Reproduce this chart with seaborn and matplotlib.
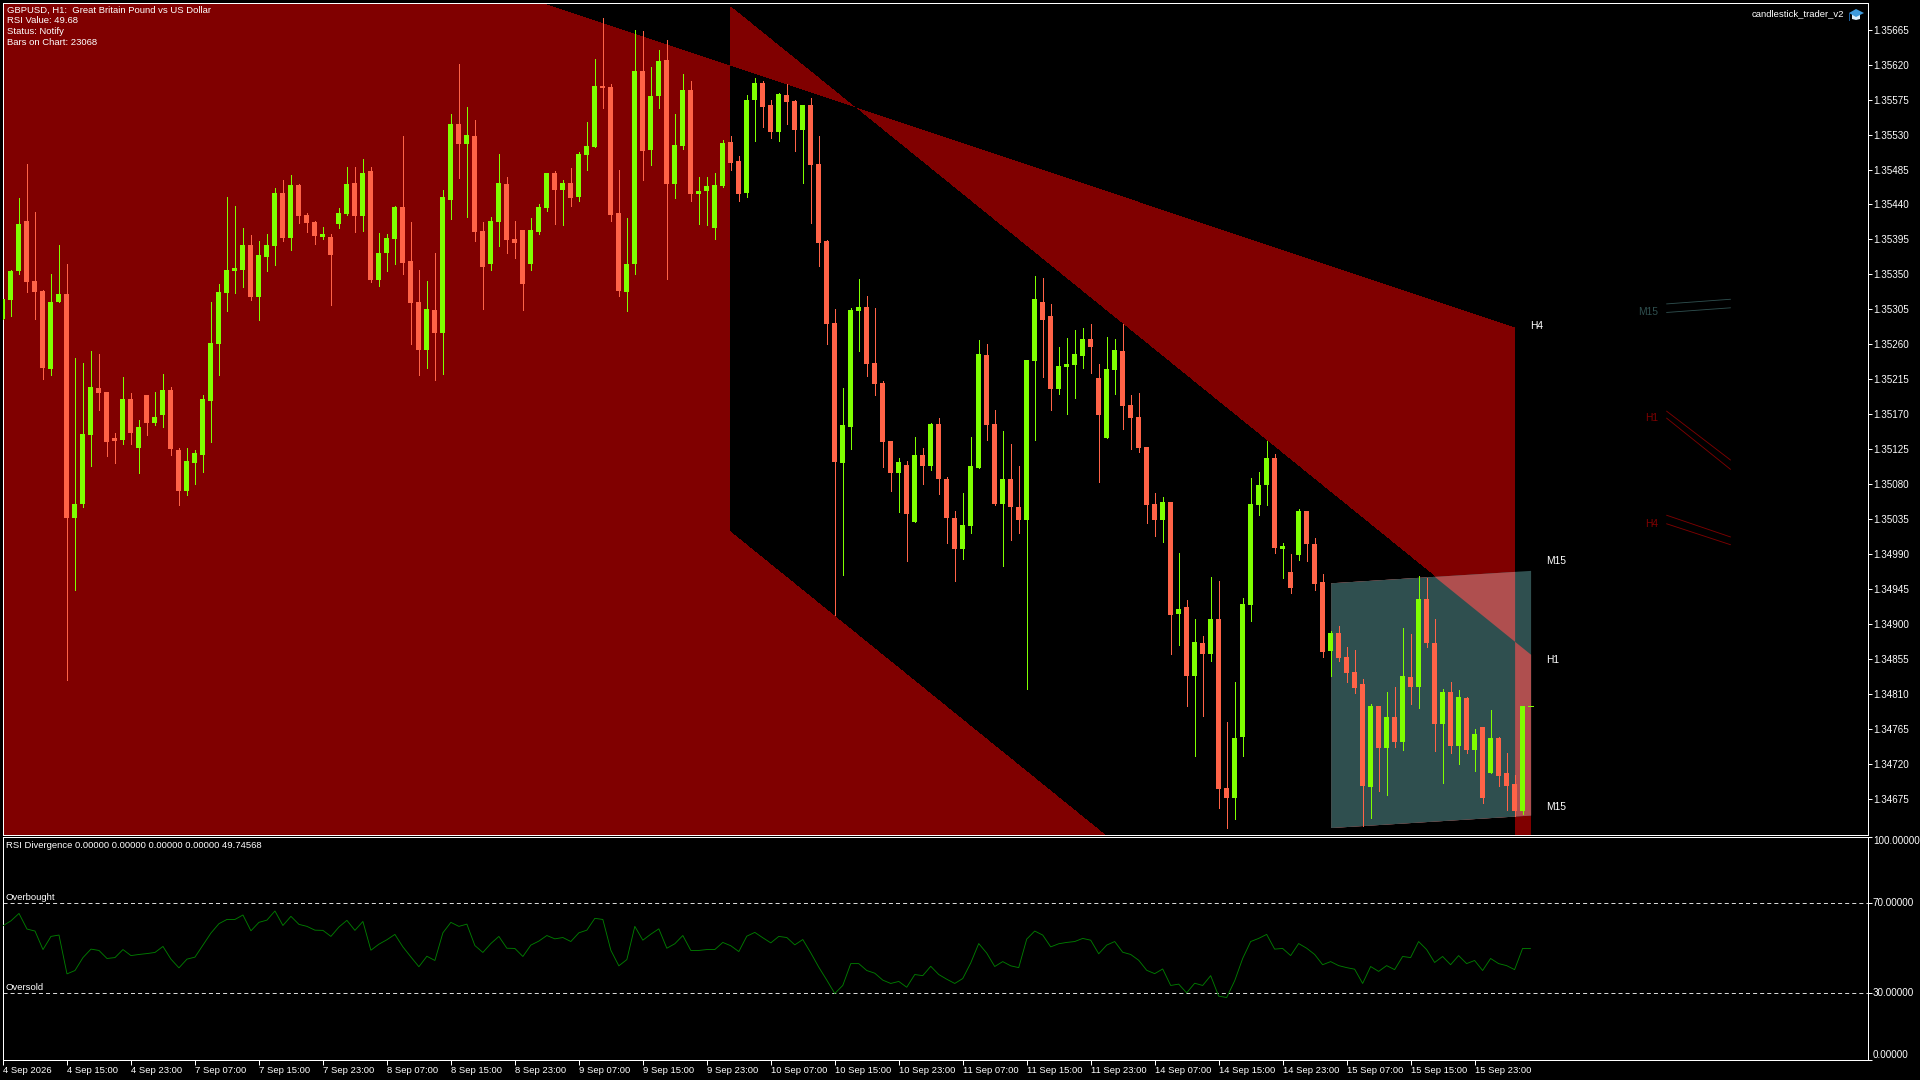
"""
GBPUSD H1 terminal screenshot: candles, XOR-filled channels and RSI subwindow.
"""

import matplotlib.pyplot as plt
import numpy as np
import seaborn as sns
from matplotlib.patches import Polygon

# Quotes are kept in points above 1.30000 (5318 -> 1.35318)
open_pts = [
    5292, 5317, 5354, 5419, 5342, 5329, 5228, 5314, 5325, 5037,
    5054, 5143, 5204, 5198, 5139, 5137, 5189, 5127, 5195, 5159,
    5169, 5201, 5124, 5071, 5107, 5118, 5187, 5261, 5326, 5355,
    5356, 5388, 5321, 5373, 5386, 5455, 5397, 5465, 5427, 5417,
    5398, 5398, 5415, 5428, 5468, 5425, 5483, 5343, 5377, 5395,
    5437, 5367, 5314, 5253, 5304, 5275, 5446, 5544, 5518, 5528,
    5406, 5364, 5417, 5467, 5395, 5407, 5364, 5404, 5436, 5480,
    5459, 5468, 5449, 5504, 5514, 5592, 5591, 5429, 5327, 5363,
    5612, 5510, 5579, 5626, 5467, 5515, 5587, 5454, 5457, 5410,
    5464, 5520, 5496, 5455, 5574, 5597, 5568, 5533, 5581, 5573,
    5536, 5568, 5492, 5393, 5287, 5107, 5154, 5303, 5308, 5236,
    5210, 5136, 5094, 5105, 5031, 5118, 5103, 5158, 5086, 5037,
    4996, 5026, 5101, 5246, 5158, 5055, 5086, 5050, 5034, 5239,
    5314, 5296, 5202, 5231, 5233, 5245, 5267, 5216, 5139, 5227,
    5252, 5182, 5166, 5128, 5054, 5034, 5057, 4913, 4922, 4833,
    4876, 4861, 4907, 4689, 4676, 4754, 4925, 5053, 5079, 5114,
    4996, 4967, 4989, 5045, 5003, 4954, 4865, 4888, 4857, 4838,
    4823, 4690, 4794, 4740, 4780, 4748, 4832, 4819, 4932, 4876,
    4771, 4812, 4743, 4805, 4738, 4767, 4708, 4753, 4708, 4694,
    4659, 4794,
]
high_pts = [
    5318, 5356, 5448, 5492, 5430, 5330, 5351, 5388, 5364, 5243,
    5236, 5251, 5248, 5198, 5146, 5218, 5197, 5162, 5195, 5198,
    5222, 5205, 5127, 5127, 5124, 5195, 5314, 5337, 5450, 5438,
    5410, 5401, 5393, 5402, 5461, 5472, 5478, 5467, 5429, 5419,
    5411, 5402, 5436, 5488, 5488, 5498, 5488, 5403, 5402, 5438,
    5528, 5417, 5356, 5342, 5378, 5458, 5557, 5621, 5566, 5549,
    5417, 5424, 5505, 5476, 5419, 5407, 5423, 5441, 5481, 5483,
    5472, 5487, 5507, 5546, 5627, 5680, 5595, 5485, 5423, 5664,
    5663, 5617, 5639, 5652, 5557, 5608, 5599, 5476, 5475, 5481,
    5523, 5528, 5502, 5581, 5603, 5599, 5574, 5583, 5595, 5574,
    5568, 5577, 5528, 5394, 5305, 5204, 5307, 5344, 5322, 5307,
    5213, 5136, 5114, 5110, 5141, 5127, 5159, 5165, 5089, 5045,
    5069, 5141, 5265, 5261, 5175, 5149, 5132, 5103, 5240, 5348,
    5345, 5312, 5257, 5268, 5278, 5281, 5286, 5235, 5269, 5267,
    5286, 5195, 5197, 5128, 5068, 5063, 5057, 4991, 4931, 4907,
    4884, 4960, 4955, 4774, 4825, 4934, 5088, 5095, 5136, 5119,
    5004, 4990, 5048, 5046, 5011, 4964, 4891, 4897, 4870, 4866,
    4829, 4797, 4794, 4812, 4819, 4895, 4887, 4962, 4959, 4906,
    4816, 4825, 4815, 4806, 4765, 4767, 4789, 4755, 4734, 4705,
    4795, 4794,
]
low_pts = [
    5292, 5296, 5351, 5327, 5292, 5215, 5221, 5314, 4828, 4944,
    5051, 5103, 5176, 5116, 5107, 5132, 5132, 5094, 5143, 5156,
    5153, 5118, 5053, 5066, 5080, 5095, 5134, 5221, 5303, 5326,
    5334, 5317, 5291, 5354, 5362, 5393, 5382, 5416, 5404, 5389,
    5395, 5311, 5410, 5427, 5404, 5406, 5340, 5335, 5355, 5364,
    5350, 5261, 5221, 5230, 5214, 5222, 5421, 5474, 5424, 5393,
    5305, 5356, 5386, 5377, 5371, 5304, 5356, 5402, 5432, 5415,
    5414, 5438, 5444, 5484, 5514, 5564, 5419, 5322, 5303, 5350,
    5472, 5491, 5564, 5344, 5448, 5511, 5444, 5415, 5414, 5395,
    5462, 5484, 5444, 5450, 5522, 5540, 5525, 5522, 5543, 5509,
    5468, 5416, 5361, 5260, 4912, 4963, 5125, 5251, 5219, 5195,
    5102, 5071, 5044, 4981, 5031, 5080, 5098, 5067, 5004, 4955,
    4983, 5017, 5101, 5137, 5053, 4974, 5008, 5017, 4816, 5137,
    5218, 5176, 5196, 5170, 5191, 5230, 5223, 5083, 5139, 5196,
    5151, 5125, 5121, 5030, 5013, 5005, 4861, 4873, 4794, 4730,
    4781, 4852, 4663, 4638, 4649, 4730, 4904, 5040, 5053, 4992,
    4959, 4940, 4982, 4981, 4944, 4857, 4833, 4852, 4825, 4811,
    4640, 4650, 4685, 4680, 4741, 4738, 4797, 4792, 4871, 4737,
    4695, 4734, 4720, 4734, 4711, 4669, 4708, 4692, 4661, 4653,
    4656, 4794,
]
close_pts = [
    5318, 5355, 5415, 5340, 5327, 5230, 5314, 5325, 5036, 5054,
    5144, 5205, 5197, 5134, 5136, 5189, 5146, 5154, 5159, 5167,
    5201, 5125, 5071, 5110, 5120, 5189, 5262, 5327, 5356, 5358,
    5388, 5321, 5375, 5388, 5455, 5397, 5465, 5425, 5416, 5399,
    5402, 5375, 5429, 5467, 5425, 5481, 5343, 5378, 5397, 5437,
    5365, 5313, 5253, 5305, 5275, 5449, 5543, 5518, 5530, 5404,
    5359, 5419, 5468, 5394, 5391, 5337, 5407, 5437, 5480, 5459,
    5468, 5448, 5505, 5515, 5592, 5590, 5427, 5329, 5364, 5612,
    5509, 5579, 5625, 5467, 5517, 5587, 5453, 5457, 5464, 5465,
    5519, 5494, 5454, 5575, 5597, 5566, 5533, 5582, 5572, 5536,
    5568, 5491, 5391, 5286, 5108, 5156, 5304, 5308, 5235, 5209,
    5134, 5094, 5108, 5041, 5118, 5103, 5157, 5086, 5036, 4996,
    5027, 5103, 5247, 5156, 5055, 5086, 5050, 5034, 5240, 5318,
    5291, 5202, 5232, 5235, 5247, 5267, 5256, 5169, 5228, 5253,
    5180, 5165, 5127, 5053, 5034, 5057, 4912, 4919, 4833, 4877,
    4861, 4907, 4687, 4676, 4753, 4926, 5054, 5079, 5114, 4998,
    5000, 4946, 5045, 5003, 4952, 4864, 4888, 4856, 4837, 4817,
    4691, 4794, 4740, 4780, 4748, 4833, 4819, 4932, 4876, 4771,
    4812, 4743, 4806, 4738, 4759, 4676, 4753, 4704, 4692, 4659,
    4794, 4794,
]

rsi_values = [
    60.0, 62.2, 65.5, 58.5, 57.6, 49.3, 55.2, 55.8, 38.4, 39.9,
    45.7, 49.5, 48.9, 45.3, 45.7, 49.3, 46.6, 47.1, 47.5, 48.0,
    50.7, 45.0, 41.1, 45.0, 45.9, 51.3, 56.7, 60.9, 62.8, 62.8,
    64.8, 57.7, 61.5, 62.5, 66.6, 60.1, 64.2, 60.6, 59.7, 58.0,
    57.9, 55.2, 59.4, 62.4, 57.9, 61.9, 49.0, 51.7, 53.7, 56.1,
    50.5, 46.0, 41.6, 46.3, 44.4, 56.8, 61.5, 59.7, 60.7, 51.1,
    48.0, 52.0, 55.2, 49.9, 49.8, 46.2, 51.3, 53.1, 55.6, 54.1,
    54.7, 52.9, 56.8, 58.0, 63.3, 62.8, 49.0, 42.0, 44.8, 59.7,
    53.5, 56.2, 58.6, 49.9, 51.9, 55.6, 48.9, 48.9, 49.3, 49.3,
    52.5, 51.0, 48.4, 55.3, 57.0, 54.6, 52.3, 55.2, 54.7, 51.4,
    53.8, 47.8, 41.4, 35.6, 29.6, 33.2, 43.0, 43.0, 39.9, 38.7,
    35.6, 34.1, 35.0, 32.4, 38.1, 37.6, 41.8, 38.1, 36.0, 34.1,
    36.3, 43.3, 52.0, 47.7, 41.7, 43.9, 42.0, 41.2, 54.0, 57.6,
    55.8, 50.5, 51.9, 52.5, 52.9, 54.3, 53.5, 47.4, 51.3, 52.9,
    48.1, 47.1, 44.5, 40.0, 38.5, 40.6, 33.2, 33.8, 29.9, 34.2,
    33.2, 37.6, 28.4, 27.8, 35.3, 45.3, 52.9, 54.3, 56.1, 49.5,
    49.8, 46.6, 52.0, 49.9, 47.1, 42.5, 43.9, 42.1, 41.2, 40.5,
    34.1, 41.7, 39.5, 42.1, 40.3, 46.2, 45.7, 52.9, 49.3, 43.5,
    46.2, 42.5, 46.6, 43.0, 44.4, 39.9, 45.3, 43.0, 42.1, 40.3,
    49.8, 49.74,
]

price_ticks = [
    1.35665, 1.35620, 1.35575, 1.35530, 1.35485, 1.35440, 1.35395, 1.35350,
    1.35305, 1.35260, 1.35215, 1.35170, 1.35125, 1.35080, 1.35035, 1.34990,
    1.34945, 1.34900, 1.34855, 1.34810, 1.34765, 1.34720, 1.34675,
]
time_labels = [
    "4 Sep 2026", "4 Sep 15:00", "4 Sep 23:00", "7 Sep 07:00", "7 Sep 15:00",
    "7 Sep 23:00", "8 Sep 07:00", "8 Sep 15:00", "8 Sep 23:00", "9 Sep 07:00",
    "9 Sep 15:00", "9 Sep 23:00", "10 Sep 07:00", "10 Sep 15:00", "10 Sep 23:00",
    "11 Sep 07:00", "11 Sep 15:00", "11 Sep 23:00", "14 Sep 07:00", "14 Sep 15:00",
    "14 Sep 23:00", "15 Sep 07:00", "15 Sep 15:00", "15 Sep 23:00",
]
rsi_ticks = [0, 30, 70, 100]
rsi_tick_labels = ["0.00000", "30.00000", "70.00000", "100.00000"]
info_lines = [
    "GBPUSD, H1:  Great Britain Pound vs US Dollar",
    "RSI Value: 49.68",
    "Status: Notify",
    "Bars on Chart: 23068",
]

# Channels: (bar index, upper price, lower price) at both ends
h4_bars, h4_top, h4_bot = [-1, 189], [1.35934, 1.35281], [1.34400, 1.33747]
h1_bars, h1_top, h1_bot = [91, 191], [1.35694, 1.34861], [1.35020, 1.34187]
m15_bars, m15_top, m15_bot = [166, 191], [1.34953, 1.34969], [1.34638, 1.34654]

# Small trend stubs right of the chart
stub_bars = [208, 216]
m15_stub = ([1.35312, 1.35318], [1.35301, 1.35307])
h1_stub = ([1.35174, 1.35111], [1.35165, 1.35099])
h4_stub = ([1.35040, 1.35012], [1.35029, 1.35002])

W, H = 1920, 1080
UP = "#7FFF00"
DOWN = "#FF6347"
MAROON = "#800000"
TEAL = "#2F4F4F"
PINK = "#AF4F4F"
FS = 6.8
THIN = 0.62


def px_rect(left, top, right, bottom):
    return [left / W, 1 - bottom / H, (right - left) / W, (bottom - top) / H]


def px_text(fig, x, y, s, **kwargs):
    fig.text(x / W, 1 - y / H, s, color="white", fontsize=FS, va="center", **kwargs)


def make_band(grid, bars, top, bot):
    lo = np.interp(grid, bars, bot, left=np.nan, right=np.nan)
    hi = np.interp(grid, bars, top, left=np.nan, right=np.nan)
    return lo, hi


def overlap(*bands):
    lo = np.max([b[0] for b in bands], axis=0)
    hi = np.min([b[1] for b in bands], axis=0)
    return lo, hi


def fill_band(ax, grid, band, color, zorder):
    lo, hi = band
    ax.fill_between(grid, lo, hi, where=hi > lo, color=color, lw=0, antialiased=False, zorder=zorder)


sns.set_theme(style="dark", rc={
    "figure.facecolor": "black",
    "axes.facecolor": "black",
    "axes.edgecolor": "white",
    "axes.linewidth": 0.72,
    "xtick.color": "white",
    "ytick.color": "white",
    "text.color": "white",
    "lines.scale_dashes": False,
})
plt.rcParams["font.family"] = ["Liberation Sans", "DejaVu Sans"]

fig = plt.figure(figsize=(W / 100, H / 100), dpi=100)
ax = fig.add_axes(px_rect(3, 2.5, 1867.5, 834.5))
ax_rsi = fig.add_axes(px_rect(3, 836.5, 1867.5, 1059.5), sharex=ax)

bars = np.arange(len(open_pts))
opens = 1.3 + np.array(open_pts) * 1e-5
highs = 1.3 + np.array(high_pts) * 1e-5
lows = 1.3 + np.array(low_pts) * 1e-5
closes = 1.3 + np.array(close_pts) * 1e-5

# Terminal draws the zones in XOR mode, so overlaps are painted over afterwards
grid = np.arange(-8, 1537) / 8
h4_band = make_band(grid, h4_bars, h4_top, h4_bot)
h1_band = make_band(grid, h1_bars, h1_top, h1_bot)
m15_band = make_band(grid, m15_bars, m15_top, m15_bot)
fill_band(ax, grid, h4_band, MAROON, 1.0)
fill_band(ax, grid, h1_band, MAROON, 1.0)
fill_band(ax, grid, overlap(h4_band, h1_band), "black", 1.1)
fill_band(ax, grid, m15_band, TEAL, 1.2)
fill_band(ax, grid, overlap(h4_band, m15_band), PINK, 1.3)
fill_band(ax, grid, overlap(h1_band, m15_band), PINK, 1.3)
fill_band(ax, grid, overlap(h4_band, h1_band, m15_band), TEAL, 1.4)

# Candles
colors = np.where(closes >= opens, UP, DOWN)
ax.vlines(bars, lows, highs, colors=colors, lw=0.72, antialiased=False, zorder=3)
ax.bar(
    bars,
    np.abs(closes - opens),
    bottom=np.minimum(opens, closes),
    width=5 / 8,
    color=colors,
    linewidth=0,
    antialiased=False,
    zorder=3,
)
flat = closes == opens
ax.hlines(closes[flat], bars[flat] - 0.3, bars[flat] + 0.3, colors=colors[flat], lw=0.72, antialiased=False, zorder=3)

# Zone labels
for bar, price, name in [(191, 1.35283, "H4"), (193, 1.34981, "M15"), (193, 1.34853, "H1"), (193, 1.34665, "M15")]:
    ax.text(bar, price, name, color="white", fontsize=FS + 0.6, va="center", ha="left", zorder=4)

# Stubs
for pair, color, name, price in [
    (m15_stub, TEAL, "M15", 1.35301),
    (h1_stub, MAROON, "H1", 1.35165),
    (h4_stub, MAROON, "H4", 1.35029),
]:
    for line in pair:
        ax.plot(stub_bars, line, color=color, lw=THIN, zorder=2)
    ax.text(207, price, name, color=color, fontsize=FS + 0.6, va="center", ha="right", zorder=2)

ax.set_xlim(0.0625, 233.125)
ax.set_ylim(1.34629, 1.35700)
ax.yaxis.tick_right()
ax.set_yticks(price_ticks)
ax.set_yticklabels([f"{p:.5f}" for p in price_ticks])
ax.tick_params(axis="y", length=2.6, width=0.72, pad=1.2, labelsize=FS + 0.3, right=True, labelright=True)
ax.tick_params(axis="x", bottom=False, labelbottom=False)
ax.grid(False)

# RSI subwindow
sns.lineplot(x=bars, y=rsi_values, color="#008000", lw=THIN, ax=ax_rsi, zorder=3)
for level in (70, 30):
    ax_rsi.axhline(level, color="#D8D8D8", lw=0.72, linestyle=(0, (2.9, 2.2)), zorder=2)
ax_rsi.set_ylim(0, 100)
ax_rsi.yaxis.tick_right()
ax_rsi.set_yticks(rsi_ticks)
ax_rsi.set_yticklabels(rsi_tick_labels)
ax_rsi.tick_params(axis="y", length=2.6, width=0.72, pad=1.2, labelsize=FS + 0.3, right=True, labelright=True)
for tick, align in zip(ax_rsi.get_yticklabels(), ["bottom", "center", "center", "top"]):
    tick.set_verticalalignment(align)
ax_rsi.set_xticks(np.arange(len(time_labels)) * 8)
ax_rsi.set_xticklabels(time_labels, ha="left")
ax_rsi.tick_params(axis="x", length=3.6, width=0.72, pad=1.0, labelsize=FS, bottom=True)
ax_rsi.grid(False)

# Terminal overlay texts
for y, line in zip([10, 20.5, 32, 42.5], info_lines):
    px_text(fig, 7, y, line)
px_text(fig, 1844, 14, "candlestick_trader_v2", ha="right")
px_text(fig, 6, 846, "RSI Divergence 0.00000 0.00000 0.00000 0.00000 49.74568")
px_text(fig, 6, 898, "Overbought")
px_text(fig, 6, 987, "Oversold")

# Expert advisor cap icon
to_fig = lambda pts: [(x / W, 1 - y / H) for x, y in pts]
for pts, color in [
    ([(1852, 14), (1860, 14), (1860, 19), (1856, 20), (1852, 19)], "#DCEFFB"),
    ([(1849, 13), (1856, 9), (1864, 13), (1856, 17)], "#3E9BDD"),
    ([(1849, 13), (1850, 13), (1850, 21), (1849, 21)], "#1C5F9E"),
]:
    fig.add_artist(Polygon(to_fig(pts), closed=True, transform=fig.transFigure, color=color, lw=0))

fig.savefig("out.png", dpi=100, facecolor="black")
